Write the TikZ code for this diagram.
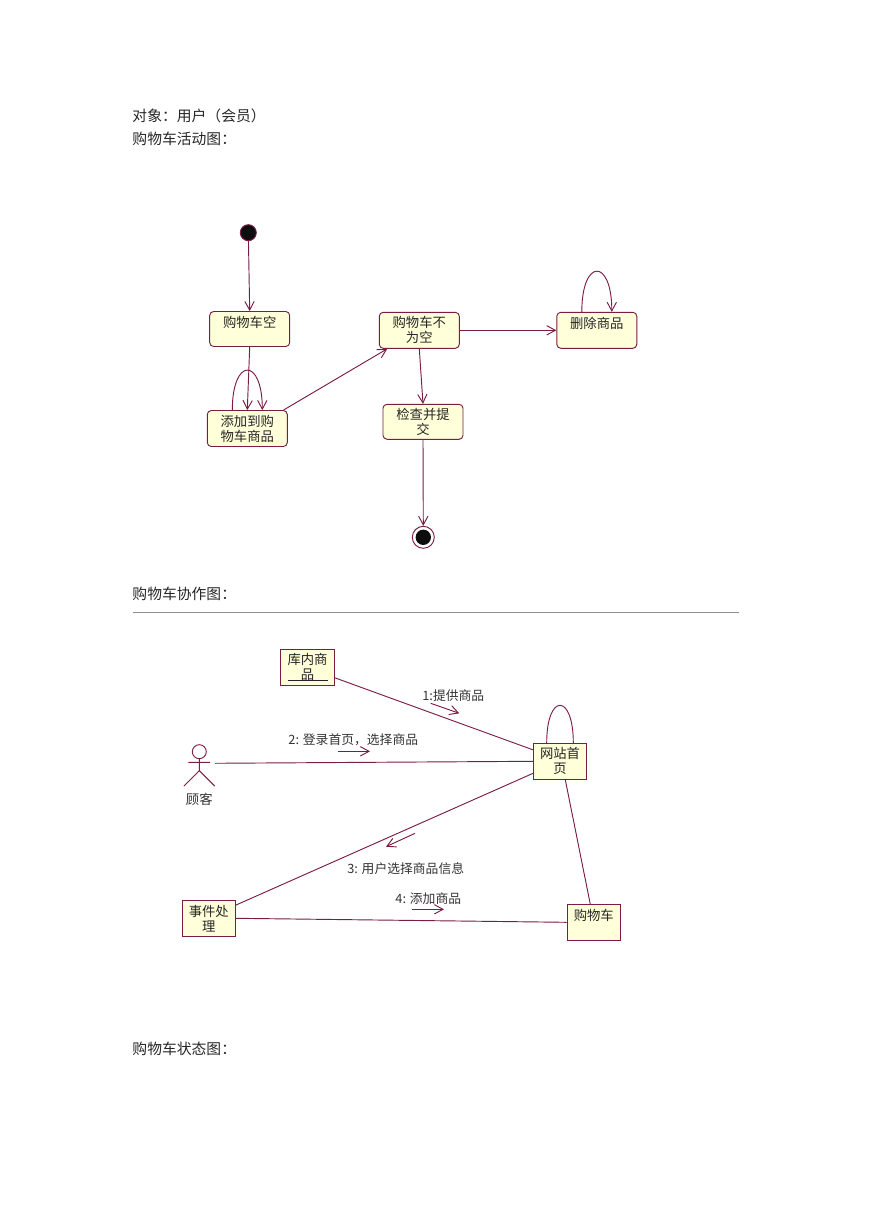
\documentclass[tikz,border=0pt]{standalone}
\usepackage{fontspec}
\newfontfamily\cjk{Noto Sans CJK SC}
\usetikzlibrary{calc,arrows.meta}
\definecolor{umlline}{HTML}{7A1C44}
\definecolor{umlfill}{HTML}{FFFFD9}
\tikzset{
  uml schemes/.style = {
    x=0.75pt, y=-0.75pt,
    line width=0.7pt,
    % state and object boxes
    sn/.style = {
      draw=umlline, fill=umlfill, text=black!85,
      inner sep=0pt, align=center,
      font=\cjk\fontsize{10}{11.25}\selectfont
    },
    state box/.style  = {sn, rounded corners=3pt, minimum width=60pt, minimum height=27pt},
    object box/.style = {sn, minimum width=40pt, minimum height=27pt},
    % text
    page text/.style = {anchor=west, inner sep=0pt, text=black!85, font=\cjk\fontsize{11.1}{13}\selectfont},
    msg text/.style  = {inner sep=0pt, text=black!80, font=\cjk\fontsize{9.6}{11}\selectfont},
    % lines, arrows
    connect line/.style = {draw=umlline},
    arrow line/.style   = {connect line, -{Straight Barb[length=6.5pt,width=7pt]}},
  }
}
\begin{document}
\begin{tikzpicture}[uml schemes]
\useasboundingbox (0,0) rectangle (869,1228);

\node[page text] (title)  at (132,115.5)  {对象：用户（会员）};
\node[page text] (active) at (132,138.5)  {购物车活动图：};
\node[page text] (collab) at (132,593.5)  {购物车协作图：};
\node[page text] (states) at (132,1048.5) {购物车状态图：};
\draw[black!45] (133,612) -- (739,612);

%---------------------------------------------
\node[circle, fill=black!95, draw=umlline, minimum size=12pt, inner sep=0pt] (start) at (248.3,232.7) {};
\node[circle, draw=umlline, fill=white, minimum size=16.5pt, inner sep=0pt] (stop) at (423.3,537.3) {};
\node[circle, fill=black!95, minimum size=11.5pt, inner sep=0pt] at (stop) {};

\node[state box, minimum height=26.25pt] (empty) at (249.7,329) {购物车空\\\mbox{}};
\node[state box] (add)     at (247.3,428.5) {添加到购\\物车商品};
\node[state box] (filled)  at (419.3,330.3) {购物车不\\为空};
\node[state box] (del)     at (596.8,330.3) {删除商品\\\mbox{}};
\node[state box, minimum height=26.25pt] (check) at (423,421.8) {检查并提\\交};

\draw[arrow line] (start) -- (empty.north);
\draw[arrow line] (empty.south) -- (add.north);
\draw[arrow line] (add.27.6) -- (filled.210);
\draw[arrow line] (filled.east) -- (del.west);
\draw[arrow line] (filled.south) -- (check.north);
\draw[arrow line] (check.south) -- (stop.north);
\draw[arrow line] ($(add.north)+(-15,0)$) .. controls +(0,-53) and +(0,-53) .. ($(add.north)+(15,0)$);
\draw[arrow line] ($(del.north)+(-15,0)$) .. controls +(0,-54) and +(0,-54) .. ($(del.north)+(15,0)$);

%---------------------------------------------
\node[object box] (stock) at (307.5,667.3) {库内商\\品};
\node[object box] (home)  at (560,761.3)   {网站首\\页};
\node[object box] (event) at (208.8,918.3) {事件处\\理};
\node[object box] (cart)  at (593.8,922.3) {购物车\\\mbox{}};
\draw[black!85] ($(stock.south)+(-20,-5)$) -- ($(stock.south)+(20,-5)$);

\node[minimum width=22.5pt, minimum height=26pt, inner sep=0pt] (cust) at (199.3,768.3) {};
\node[msg text, font=\cjk\fontsize{10}{12}\selectfont] (custname) at (199.3,799) {顾客};
\draw[umlline] (199.3,751.7) circle (7);
\draw[umlline] (199.3,758.7) -- (199.3,770.7) -- (cust.south west)
               (199.3,770.7) -- (cust.south east)
               (188.3,762.3) -- (210,762.3);

\draw[connect line] (stock.-21) -- (home.157);
\draw[connect line] (cust.18) -- (home.west);
\draw[connect line] (home.204) -- (event.26.6);
\draw[connect line] (home.-74.5) -- (cart.101.9);
\draw[connect line] (event.east) -- (cart.west);
\draw[connect line] ($(home.north)+(-13.3,0)$) .. controls +(0,-50) and +(0,-50) .. ($(home.north)+(13.3,0)$);

\node[msg text] (msga) at (453.3,696)   {1:提供商品};
\node[msg text] (msgb) at (353.3,740)   {2: 登录首页，选择商品};
\node[msg text] (msgc) at (405.7,868.7) {3: 用户选择商品信息};
\node[msg text] (msgd) at (428.3,898.3) {4: 添加商品};

\coordinate (a1) at (430.7,703.3); \coordinate (a2) at (459.3,713.3);
\coordinate (b1) at (338.3,751.3); \coordinate (b2) at (370,751.3);
\coordinate (c1) at (415,833.3);   \coordinate (c2) at (386,846.7);
\coordinate (d1) at (412.3,909.3); \coordinate (d2) at (444,909.3);
\foreach \m in {a,b,c,d}
  \draw[arrow line] (\m1) -- (\m2);
\end{tikzpicture}
\end{document}
